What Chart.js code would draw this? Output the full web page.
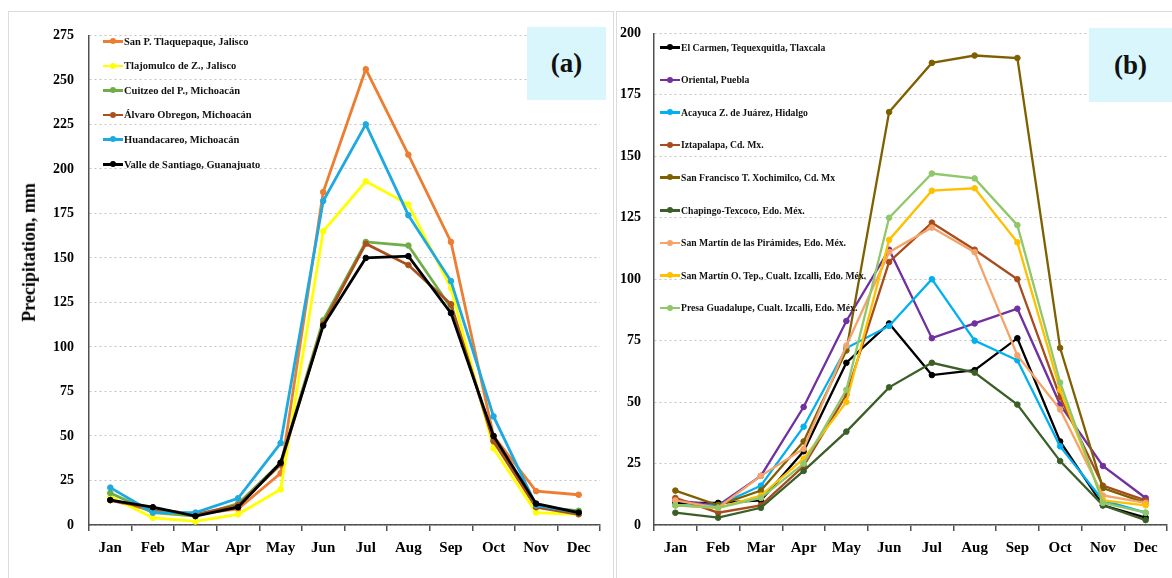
<!DOCTYPE html>
<html>
<head>
<meta charset="utf-8">
<script src="https://cdn.jsdelivr.net/npm/chart.js@4/dist/chart.umd.min.js"></script>
<style>
  body { margin: 0; width: 1172px; height: 578px; background: #fff; overflow: hidden; position: relative; font-family: 'Liberation Serif', serif; }
  .panel { position: absolute; border: 1px solid #dcdcdc; box-sizing: border-box; }
  canvas { position: absolute; }
  .tag { position: absolute; background: #daf6fd; font-weight: bold; font-size: 27px; color: #111;
         display: flex; align-items: center; justify-content: center; }
  .legend { position: absolute; font-weight: bold; color: #111; }
  .legend .row { position: absolute; left: 0; white-space: nowrap; display: flex; align-items: center; }
  .legend .mk { position: relative; width: 20px; height: 10px; margin-right: 1px; }
  .legend .mk i { position: absolute; left: 0; right: 0; top: 4px; height: 2.5px; }
  .legend .mk b { position: absolute; left: 7px; top: 2px; width: 6px; height: 6px; border-radius: 50%; }
  .ytitle { position: absolute; font-weight: bold; font-size: 18px; transform: rotate(-90deg); white-space: nowrap; }
</style>
</head>
<body>
<div class="panel" style="left:8px; top:11px; width:606px; height:580px;"></div>
<div class="panel" style="left:616px; top:11px; width:570px; height:580px;"></div>
<canvas id="chartA" width="604" height="566" style="left:9px; top:12px;"></canvas>
<canvas id="chartB" width="555" height="566" style="left:617px; top:12px;"></canvas>
<div class="ytitle" id="ytitle">Precipitation, mm</div>
<div class="legend" id="legendA" style="left:103px; top:0;"></div>
<div class="legend" id="legendB" style="left:660px; top:0;"></div>
<div class="tag" style="left:527px; top:27px; width:79px; height:73px;">(a)</div>
<div class="tag" style="left:1089px; top:28px; width:83px; height:74px;">(b)</div>
<script>
const months = ['Jan', 'Feb', 'Mar', 'Apr', 'May', 'Jun', 'Jul', 'Aug', 'Sep', 'Oct', 'Nov', 'Dec'];

// panel (a)
const namesA = ['San P. Tlaquepaque, Jalisco', 'Tlajomulco de Z., Jalisco', 'Cuitzeo del P., Michoacán',
                'Álvaro Obregon, Michoacán', 'Huandacareo, Michoacán', 'Valle de Santiago, Guanajuato'];
const colorsA = ['#ED7D31', '#FFFF00', '#70AD47', '#A9521E', '#1FA9E1', '#000000'];
const tlaquepaque   = [14, 8, 6, 9, 29, 187, 256, 208, 159, 50, 19, 17];
const tlajomulco    = [16, 4, 2, 6, 20, 165, 193, 180, 133, 43, 7, 6];
const cuitzeo       = [18, 7, 5, 12, 35, 115, 159, 157, 122, 48, 10, 8];
const alvaroObregon = [14, 9, 6, 11, 34, 113, 158, 146, 124, 47, 10, 6];
const huandacareo   = [21, 7, 7, 15, 46, 182, 225, 174, 137, 61, 11, 7];
const valleSantiago = [14, 10, 5, 10, 35, 112, 150, 151, 119, 50, 12, 7];
const seriesA = [tlaquepaque, tlajomulco, cuitzeo, alvaroObregon, huandacareo, valleSantiago];
const maxA = 275;

// panel (b)
const namesB = ['El Carmen, Tequexquitla, Tlaxcala', 'Oriental, Puebla', 'Acayuca Z. de Juárez, Hidalgo',
                'Iztapalapa, Cd. Mx.', 'San Francisco T. Xochimilco, Cd. Mx', 'Chapingo-Texcoco, Edo. Méx.',
                'San Martín de las Pirámides, Edo. Méx.', 'San Martín O. Tep., Cualt. Izcalli, Edo. Méx.',
                'Presa Guadalupe, Cualt. Izcalli, Edo. Méx.'];
const colorsB = ['#000000', '#7030A0', '#00B0F0', '#A84C1E', '#7F6000', '#3B5F27', '#F4A46A', '#FFC000', '#8FC76A'];
const elCarmen       = [9, 9, 10, 30, 66, 82, 61, 63, 76, 34, 8, 3];
const oriental       = [10, 8, 20, 48, 83, 112, 76, 82, 88, 49, 24, 11];
const acayuca        = [8, 8, 16, 40, 72, 81, 100, 75, 67, 32, 10, 5];
const iztapalapa     = [11, 5, 8, 24, 53, 107, 123, 112, 100, 52, 16, 10];
const xochimilco     = [14, 8, 14, 34, 71, 168, 188, 191, 190, 72, 15, 9];
const chapingo       = [5, 3, 7, 22, 38, 56, 66, 62, 49, 26, 8, 2];
const piramides      = [10, 7, 20, 31, 73, 111, 121, 111, 69, 47, 12, 9];
const tepotzotlan    = [8, 7, 12, 27, 50, 116, 136, 137, 115, 55, 10, 8];
const presaGuadalupe = [8, 7, 11, 25, 55, 125, 143, 141, 122, 58, 9, 5];
const seriesB = [elCarmen, oriental, acayuca, iztapalapa, xochimilco, chapingo, piramides, tepotzotlan, presaGuadalupe];
const maxB = 200;

const FONT = "'Liberation Serif', serif";

function makeChart(id, names, colors, series, max, yWidth, padRight, tickPad, lineW) {
  const n = series.length;
  return new Chart(document.getElementById(id), {
    type: 'line',
    data: {
      labels: months,
      datasets: series.map((d, i) => ({
        label: names[i],
        data: d,
        borderColor: colors[i],
        backgroundColor: colors[i],
        pointBackgroundColor: colors[i],
        pointBorderColor: colors[i],
        borderWidth: lineW,
        pointRadius: 2.8,
        pointBorderWidth: 1,
        tension: 0,
        order: n - i   // last series on top, like the original
      }))
    },
    options: {
      responsive: false,
      animation: false,
      layout: { padding: { top: 21, right: padRight, left: 0, bottom: 0 } },
      plugins: { legend: { display: false }, tooltip: { enabled: false } },
      scales: {
        x: {
          offset: true,
          afterFit: s => { s.height = 53; },
          grid: { offset: true, drawOnChartArea: false, drawTicks: true, tickLength: 6, color: '#505050', lineWidth: 1.5 },
          border: { display: true, color: '#505050', width: 1.5 },
          ticks: { color: '#000', padding: 8, maxRotation: 0, font: { family: FONT, size: 15, weight: 'bold' } }
        },
        y: {
          min: 0,
          max: max,
          afterFit: s => { s.width = yWidth; },
          grid: { color: '#c4c4c4', lineWidth: 1, drawTicks: false },
          border: { display: true, color: '#505050', width: 1.5, dash: [2, 3] },
          ticks: { stepSize: 25, color: '#000', padding: tickPad, font: { family: FONT, size: 14, weight: 'bold' } }
        }
      }
    }
  });
}

function buildLegend(id, names, colors, top0, step, fontSize) {
  const el = document.getElementById(id);
  el.style.fontSize = fontSize + 'px';
  names.forEach((name, i) => {
    const row = document.createElement('div');
    row.className = 'row';
    row.style.top = (top0 + i * step - 7) + 'px';
    row.style.height = '14px';
    row.innerHTML = '<span class="mk"><i style="background:' + colors[i] + '"></i><b style="background:' +
      colors[i] + '"></b></span><span>' + name + '</span>';
    el.appendChild(row);
  });
}

makeChart('chartA', namesA, colorsA, seriesA, maxA, 80, 13, 15, 2.8);
makeChart('chartB', namesB, colorsB, seriesB, maxB, 37, 2, 13, 2.3);
buildLegend('legendA', namesA, colorsA, 41, 24.6, 10.5);
buildLegend('legendB', namesB, colorsB, 47, 32.6, 9.7);

// rotated axis title of panel (a)
const yt = document.getElementById('ytitle');
const w = yt.offsetWidth, h = yt.offsetHeight;
yt.style.left = (29 - w / 2) + 'px';
yt.style.top = (252 - h / 2) + 'px';
</script>
</body>
</html>
